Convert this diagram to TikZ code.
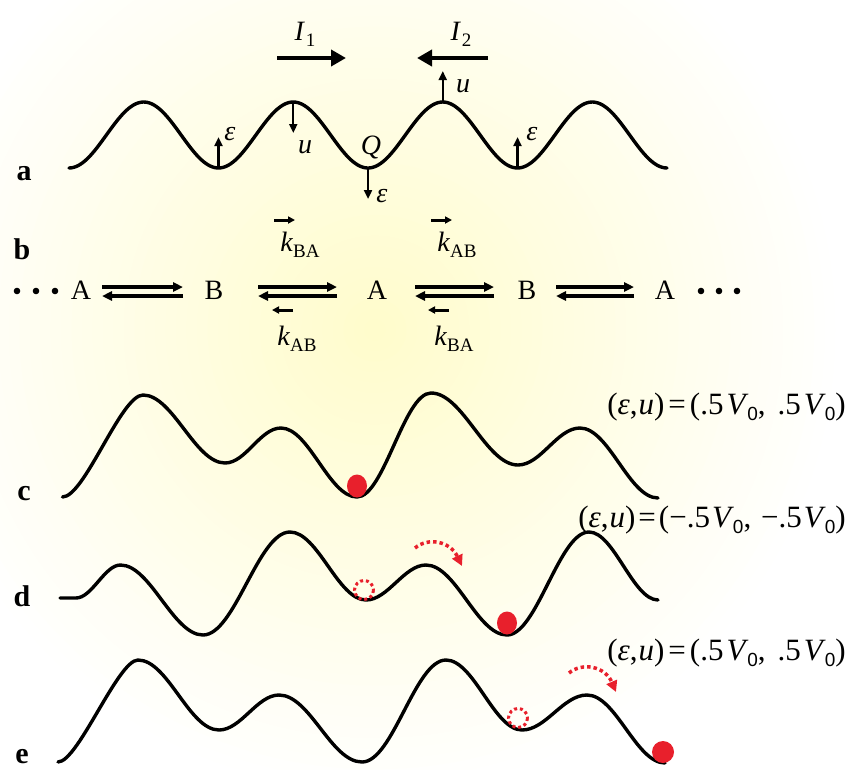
\documentclass[tikz,border=0pt]{standalone}
\usepackage{fontspec}
\setmainfont{Liberation Serif}
\setsansfont{Liberation Sans}
\usetikzlibrary{arrows.meta}
\definecolor{glowc}{RGB}{255,252,204}
\definecolor{dotred}{RGB}{232,32,44}
\newcommand\sbx[1]{\raisebox{-0.22em}{\fontsize{19}{20}\selectfont #1}}
\newcommand\zsub{\raisebox{-0.2em}{\fontsize{19}{20}\selectfont\sffamily 0}}
\tikzset{
  curve/.style={line width=3.4pt, line join=round, line cap=round},
  hz/.style={to path={.. controls +(#1,0) and +(-#1,0) .. (\tikztotarget)}},
  varr/.style={line width=2.4pt, -{Triangle[length=9pt,width=8pt]}},
  bigarr/.style={line width=4.5pt, -{Triangle[length=15pt,width=16pt]}},
  eqarr/.style={line width=3.4pt, -{Triangle[length=10pt,width=9pt]}},
  karr/.style={line width=3pt, -{Triangle[length=7pt,width=7pt]}},
  ball/.style={fill=dotred},
  hop/.style={dotred, line width=3.5pt, dash pattern=on 3.5pt off 3pt, -{Triangle[length=11pt,width=11pt]}},
  ring/.style={dotred, line width=3pt, dash pattern=on 3pt off 2.8pt},
  plabel/.style={anchor=base, font=\fontsize{30}{32}\selectfont\bfseries},
  eqlabel/.style={anchor=base east, font=\fontsize{31}{34}\selectfont},
  every node/.style={inner sep=0pt}
}
\begin{document}
\begin{tikzpicture}[x=1pt, y=-1pt, font=\fontsize{28}{32}\selectfont]
% background glow
\begin{scope}
\clip (0,0) rectangle (849,769);
\fill[white] (0,0) rectangle (849,769);
\foreach \i in {1,...,44}{
  \pgfmathsetmacro\rr{460*(1-(\i-1)/44)}
  \pgfmathsetmacro\pp{100*\i/44}
  \fill[glowc!\pp!white] (375,330) circle (\rr);
}
\end{scope}
\useasboundingbox (0,0) rectangle (849,769);

% ---------- panel a ----------
\node[plabel] (la) at (24,180) {a};
\draw[curve] plot[domain=69:667, samples=260] (\x, {135-33*cos(2.40803*(\x-143.75))});
\coordinate (ta1) at (218.5,168);
\coordinate (pa2) at (293.25,102);
\coordinate (ta2) at (368,168);
\coordinate (pa3) at (442.75,102);
\coordinate (ta3) at (517.5,168);
\draw[varr] (ta1) -- ++(0,-31);
\draw[varr] (pa2) -- ++(0,31);
\draw[varr] (ta2) -- ++(0,31);
\draw[varr] (pa3) -- ++(0,-31);
\draw[varr] (ta3) -- ++(0,-31);
\node (e1) at (230,134) {\textit{ε}};
\node (u1) at (305,147) {\textit{u}};
\node (Q) at (371,147) {\textit{Q}};
\node (e2) at (382,196) {\textit{ε}};
\node (u2) at (463,86) {\textit{u}};
\node (e3) at (532,134) {\textit{ε}};
\node (I1) at (305,34) {\textit{I}\kern1pt\sbx{1}};
\node (I2) at (461,34) {\textit{I}\kern1pt\sbx{2}};
\coordinate (i1s) at (277,58);
\coordinate (i1e) at (346,58);
\coordinate (i2s) at (488,58);
\coordinate (i2e) at (417,58);
\draw[bigarr] (i1s) -- (i1e);
\draw[bigarr] (i2s) -- (i2e);

% ---------- panel b ----------
\node[plabel] (lb) at (22,259) {b};
\fill (17,291) circle (3.3);
\fill (36,291) circle (3.3);
\fill (55,291) circle (3.3);
\fill (701,291) circle (3.3);
\fill (719,291) circle (3.3);
\fill (737,291) circle (3.3);
\node[anchor=base] (A1) at (81,299) {A};
\node[anchor=base] (B1) at (214,299) {B};
\node[anchor=base] (A2) at (377,299) {A};
\node[anchor=base] (B2) at (527,299) {B};
\node[anchor=base] (A3) at (665,299) {A};
\foreach \xa/\xb [count=\i] in {102/183, 258/337, 415/494, 556/634}{
  \coordinate (r\i a) at (\xa,287);
  \coordinate (r\i b) at (\xb,287);
  \coordinate (l\i a) at (\xb,296);
  \coordinate (l\i b) at (\xa,296);
  \draw[eqarr] (r\i a) -- (r\i b);
  \draw[eqarr] (l\i a) -- (l\i b);
}
\node[anchor=base] (k1) at (300,251) {\textit{k}\sbx{BA}};
\node[anchor=base] (k2) at (457,251) {\textit{k}\sbx{AB}};
\node[anchor=base] (k3) at (297,345) {\textit{k}\sbx{AB}};
\node[anchor=base] (k4) at (454,345) {\textit{k}\sbx{BA}};
\draw[karr] (274,220) -- (295,220);
\draw[karr] (431,220) -- (452,220);
\draw[karr] (293,310) -- (272,310);
\draw[karr] (449,310) -- (428,310);

% ---------- panel c ----------
\node[plabel] (lc) at (24,500) {c};
\draw[curve] (62.5,497) to[hz=22] (143,395) to[hz=30] (225,463) to[hz=21] (281,428) to[hz=28] (357,497) to[hz=27] (431,393) to[hz=32] (518,465) to[hz=23] (580,428) to[hz=29] (658,498);
\fill[ball] (357,486) ellipse (10 and 11.5);
\node[eqlabel] (eqc) at (846,414) {(\textit{ε},\kern1pt\textit{u})\kern4pt=\kern4pt(.5\kern3pt\textit{V}\kern-1pt\zsub,\kern12pt.5\kern3pt\textit{V}\kern-1pt\zsub)};

% ---------- panel d ----------
\node[plabel] (ld) at (22,606) {d};
\draw[curve] (60,598) -- (76,598) to[hz=16] (120.5,565) to[hz=30] (203,635) to[hz=32] (290,532) to[hz=28] (366,600) to[hz=22] (426,565) to[hz=30] (507,635) to[hz=30] (589,532) to[hz=25] (658,600);
\draw[ring] (364,590) circle (9.5);
\fill[ball] (507,623) ellipse (10 and 11.5);
\draw[hop] (415,548) .. controls (428,537) and (450,541) .. (462,566);
\node[eqlabel] (eqd) at (846,527) {(\textit{ε},\kern1pt\textit{u})\kern3pt=\kern3pt(−.5\kern2pt\textit{V}\kern-1pt\zsub,\kern10pt−.5\kern2pt\textit{V}\kern-1pt\zsub)};

% ---------- panel e ----------
\node[plabel] (le) at (22,763) {e};
\draw[curve] (58,762) to[hz=20] (138,660) to[hz=30] (219,730) to[hz=22] (279,695) to[hz=31] (362,762) to[hz=31] (446,660) to[hz=28] (522,730) to[hz=24] (587,695) to[hz=29] (665,763);
\draw[ring] (518,718) circle (9.5);
\fill[ball] (663,752) circle (11);
\draw[hop] (569,673) .. controls (582,662) and (605,666) .. (616,692);
\node[eqlabel] (eqe) at (846,660) {(\textit{ε},\kern1pt\textit{u})\kern4pt=\kern4pt(.5\kern3pt\textit{V}\kern-1pt\zsub,\kern12pt.5\kern3pt\textit{V}\kern-1pt\zsub)};
\end{tikzpicture}
\end{document}
